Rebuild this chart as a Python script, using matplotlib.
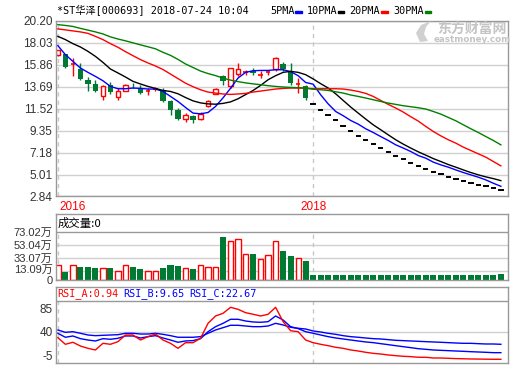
import numpy as np
import matplotlib.pyplot as plt
import matplotlib.transforms as mtransforms
from matplotlib.patches import Rectangle, Polygon

plt.rcParams['font.family'] = ['Liberation Sans', 'Noto Sans CJK SC', 'DejaVu Sans']
MONO = ['DejaVu Sans Mono', 'Noto Sans CJK SC']

# ---- data (price in yuan, volume in 万, one bar per index) ----
opens = [16.88, 16.94, 15.96, 15.48, 14.39, 13.97, 12.74, 13.90, 12.64, 13.30,
         13.72, 13.50, 13.28, 13.48, 13.40, 12.31, 11.42, 10.50, 10.80, 10.53,
         11.82, 12.99, 14.79, 13.73, 14.96, 15.10, 15.30, 14.88, 15.10, 15.45,
         15.95, 15.22, 13.95, 13.80,
         11.99, 11.42, 10.92, 10.36, 9.83, 9.34, 8.87, 8.45, 8.02, 7.63,
         7.26, 6.89, 6.53, 6.20, 5.90, 5.60, 5.30, 5.05, 4.81, 4.58,
         4.38, 4.19, 4.02, 3.86, 3.69, 3.49]
closes = [17.30, 15.65, 16.00, 14.46, 13.97, 13.23, 13.80, 13.14, 13.30, 13.90,
          13.65, 13.07, 13.32, 13.52, 12.24, 11.42, 10.50, 10.92, 10.40, 11.00,
          12.24, 13.47, 14.23, 15.55, 15.45, 15.14, 15.05, 14.91, 15.14, 16.54,
          15.48, 14.07, 13.99, 12.58,
          11.99, 11.42, 10.92, 10.36, 9.83, 9.34, 8.87, 8.45, 8.02, 7.63,
          7.26, 6.89, 6.53, 6.20, 5.90, 5.60, 5.30, 5.05, 4.81, 4.58,
          4.38, 4.19, 4.02, 3.86, 3.69, 3.49]
highs = [17.35, 16.95, 16.50, 16.05, 14.62, 14.40, 13.90, 14.12, 13.57, 13.95,
         14.10, 13.90, 13.57, 13.70, 13.57, 12.40, 11.60, 11.10, 10.90, 11.20,
         12.35, 13.55, 14.90, 15.60, 16.00, 15.40, 15.60, 15.30, 15.40, 16.60,
         16.14, 16.00, 14.56, 13.90,
         11.99, 11.42, 10.92, 10.36, 9.83, 9.34, 8.87, 8.45, 8.02, 7.63,
         7.26, 6.89, 6.53, 6.20, 5.90, 5.60, 5.30, 5.05, 4.81, 4.58,
         4.38, 4.19, 4.02, 3.86, 3.69, 3.49]
lows = [16.70, 15.60, 14.72, 14.40, 13.30, 13.20, 12.41, 13.00, 12.34, 13.25,
        13.60, 13.00, 12.90, 13.30, 12.20, 10.93, 10.40, 10.16, 10.10, 10.40,
        11.70, 12.95, 13.90, 13.60, 14.80, 14.90, 14.90, 14.60, 14.90, 15.30,
        15.30, 13.90, 13.07, 12.40,
        11.99, 11.42, 10.92, 10.36, 9.83, 9.34, 8.87, 8.45, 8.02, 7.63,
        7.26, 6.89, 6.53, 6.20, 5.90, 5.60, 5.30, 5.05, 4.81, 4.58,
        4.38, 4.19, 4.02, 3.86, 3.69, 3.49]

ma5 = [17.76, 16.87, 16.21, 15.55, 15.12, 14.72, 14.29, 13.73, 13.50, 13.50,
       13.57, 13.53, 13.47, 13.47, 13.23, 12.74, 12.24, 11.65, 11.09, 11.02,
       11.15, 11.75, 12.60, 13.55, 14.56, 15.12, 15.28, 15.31, 15.31, 15.38,
       15.38, 15.19, 14.79, 14.12, 13.95, 12.90, 12.00, 11.25, 10.83, 10.36,
       10.00, 9.54, 9.17, 8.77, 8.38, 7.95, 7.63, 7.29, 6.89, 6.63,
       6.24, 5.97, 5.74, 5.47, 5.21, 4.98, 4.75, 4.48, 4.15, 3.85]
ma10 = [18.68, 18.36, 17.96, 17.63, 17.20, 16.70, 16.11, 15.45, 15.06, 14.66,
        14.23, 13.97, 13.73, 13.53, 13.33, 13.23, 13.00, 12.63, 12.30, 12.10,
        12.00, 11.97, 12.05, 12.20, 12.51, 12.92, 13.33, 13.83, 14.39, 14.79,
        15.12, 15.22, 15.12, 14.89, 14.47, 14.00, 13.57, 13.00, 12.34, 11.69,
        11.09, 10.50, 9.93, 9.44, 8.94, 8.45, 8.02, 7.63, 7.26, 6.93,
        6.59, 6.30, 6.00, 5.74, 5.47, 5.21, 4.98, 4.78, 4.61, 4.41]
ma20 = [19.42, 19.32, 19.22, 19.12, 18.98, 18.68, 18.36, 17.96, 17.60, 17.17,
        16.77, 16.38, 16.05, 15.75, 15.40, 14.95, 14.50, 14.05, 13.70, 13.40,
        13.17, 13.07, 12.98, 12.94, 12.98, 13.04, 13.17, 13.27, 13.37, 13.47,
        13.53, 13.57, 13.57, 13.55, 13.50, 13.50, 13.50, 13.50, 13.47, 13.37,
        13.23, 13.04, 12.74, 12.34, 11.95, 11.59, 11.19, 10.73, 10.30, 9.77,
        9.27, 8.84, 8.45, 8.12, 7.72, 7.39, 7.06, 6.73, 6.30, 5.87]
ma30 = [19.84, 19.76, 19.66, 19.47, 19.30, 19.12, 18.92, 18.63, 18.42, 18.24,
        18.04, 17.84, 17.65, 17.45, 17.10, 16.80, 16.40, 15.95, 15.60, 15.25,
        15.00, 14.80, 14.55, 14.35, 14.20, 14.08, 13.98, 13.90, 13.80, 13.73,
        13.67, 13.63, 13.60, 13.57, 13.45, 13.40, 13.33, 13.20, 13.07, 12.88,
        12.74, 12.58, 12.41, 12.24, 12.08, 11.95, 11.82, 11.72, 11.62, 11.49,
        11.25, 10.99, 10.66, 10.33, 9.93, 9.54, 9.17, 8.77, 8.38, 7.95]

volume = [22.2, 12.2, 22.2, 19.6, 19.6, 18.0, 18.8, 18.0, 14.2, 22.2,
          19.6, 16.2, 14.2, 14.2, 18.0, 22.7, 21.0, 18.8, 16.2, 22.2,
          20.5, 19.6, 65.5, 59.4, 62.0, 39.3, 39.5, 31.3, 37.5, 59.0,
          43.8, 36.2, 32.8, 28.6,
          7.8, 7.8, 7.8, 7.8, 7.8, 7.8, 7.8, 7.8, 7.8, 7.8,
          7.8, 7.8, 7.8, 7.8, 7.8, 7.8, 7.8, 7.8, 7.8, 7.8,
          7.8, 7.8, 7.8, 7.8, 7.8, 9.1]

rsi_a = [29.0, 16.2, 20.1, 12.9, 8.4, 5.2, 18.1, 16.2, 21.3, 34.2,
         34.2, 24.5, 31.0, 36.1, 24.5, 18.1, 8.4, 19.3, 19.3, 27.8,
         56.8, 71.0, 76.2, 87.8, 83.9, 77.4, 74.3, 71.0, 74.3, 87.8,
         60.0, 42.5, 40.6, 24.5, 19.3, 16.2, 13.5, 10.4, 8.4, 5.2,
         3.2, 0.7, -1.3, -2.6, -4.5, -5.8, -7.0, -7.7, -8.9, -8.9,
         -10.3, -10.3, -10.9, -11.5, -11.8, -12.2, -12.4, -12.6, -12.8, -12.8]
rsi_b = [37.5, 29.8, 32.3, 27.1, 24.5, 22.6, 27.1, 25.9, 27.8, 32.3,
         32.3, 28.4, 31.0, 32.9, 28.4, 24.5, 20.1, 22.6, 23.3, 27.1,
         40.6, 50.3, 56.8, 64.6, 64.6, 61.3, 59.4, 58.8, 60.0, 71.0,
         63.2, 50.3, 46.5, 40.6, 37.5, 34.2, 31.0, 28.4, 26.5, 24.5,
         22.6, 20.7, 19.4, 17.4, 15.5, 13.5, 11.6, 9.7, 7.7, 6.5,
         5.2, 4.5, 3.9, 3.2, 2.6, 1.9, 1.3, 0.7, 0.0, 0.0]
rsi_c = [43.9, 39.4, 40.6, 37.5, 34.2, 32.9, 33.6, 34.2, 34.8, 37.5,
         37.5, 36.1, 36.1, 37.5, 35.5, 32.9, 29.8, 29.8, 29.8, 31.0,
         37.5, 43.9, 48.4, 53.0, 53.0, 51.6, 50.3, 50.3, 51.6, 56.8,
         53.6, 49.1, 47.2, 45.8, 42.0, 40.0, 37.5, 35.5, 32.9, 31.0,
         29.8, 28.4, 27.1, 26.5, 25.2, 23.9, 23.3, 22.6, 22.0, 21.3,
         20.7, 20.1, 19.4, 18.7, 18.1, 18.1, 17.4, 16.8, 16.8, 16.2]

price_ticks = [2.84, 5.01, 7.18, 9.35, 11.52, 13.69, 15.86, 18.03, 20.20]
vol_ticks = [0, 13.09, 33.07, 53.04, 73.02]
vol_labels = ['0', '13.09万', '33.07万', '53.04万', '73.02万']
rsi_ticks = [-5, 40, 85]
year_pos = [0, 34]
year_labels = ['2016', '2018']

RED = '#ff0000'
GREEN = '#007a33'
BORDER = '#999999'
GRID = '#d0d0d0'

W, H = 520, 365
fig = plt.figure(figsize=(W / 100, H / 100), dpi=100)


def box(x0, y0, x1, y1):
    return [x0 / W, 1 - y1 / H, (x1 - x0) / W, (y1 - y0) / H]


ax = fig.add_axes(box(56, 21, 508, 196.5))
axv = fig.add_axes(box(56, 214, 508, 280))
axr = fig.add_axes(box(56, 287, 508, 363))

n = len(closes)
x = np.arange(n)
for a in (ax, axv, axr):
    a.set_xlim(-0.25, 59.95)
    a.set_xticks([])
    for s in a.spines.values():
        s.set_color(BORDER)
        s.set_linewidth(1)
    a.tick_params(axis='y', length=0, pad=2.5, labelsize=8.5, labelcolor='#333333')

# ---- price panel ----
ax.set_ylim(2.84, 20.20)
ax.set_yticks(price_ticks, ['%.2f' % t for t in price_ticks])
for t in price_ticks:
    ax.axhline(t, color=GRID, lw=1, zorder=0)
for p in year_pos:
    ax.axvline(p, color='#c8c8c8', lw=1, ls=(0, (3, 3)), zorder=0)

bw = 0.62
for i in range(n):
    o, h, l, c = opens[i], highs[i], lows[i], closes[i]
    if h == l:
        ax.hlines(c, i - 0.36, i + 0.36, color='black', lw=1.4, zorder=2)
        continue
    col = RED if c > o else GREEN
    ax.vlines(i, l, h, color=col, lw=1, zorder=2)
    if abs(c - o) < 0.06:
        ax.hlines((o + c) / 2, i - bw / 2, i + bw / 2, color=col, lw=1.2, zorder=2)
    elif c > o:
        ax.add_patch(Rectangle((i - bw / 2, o), bw, c - o, facecolor='white',
                               edgecolor=RED, lw=1, zorder=2.5))
    else:
        ax.add_patch(Rectangle((i - bw / 2 - 0.05, c), bw + 0.1, o - c, facecolor=GREEN,
                               edgecolor='none', zorder=2.5))

ax.plot(x, ma5, color='#0000ff', lw=1, zorder=3)
ax.plot(x, ma10, color='black', lw=1, zorder=3)
ax.plot(x, ma20, color=RED, lw=1, zorder=3)
ax.plot(x, ma30, color='#008000', lw=1, zorder=3)

for p, lab in zip(year_pos, year_labels):
    ax.text(p + 0.15 if p == 0 else p, -0.057, lab, transform=ax.get_xaxis_transform(),
            color=RED, fontsize=8.5, ha='left' if p == 0 else 'center', va='center')

# ---- volume panel ----
vtop = 73.02 * 66 / 48
axv.set_ylim(0, vtop)
axv.set_yticks(vol_ticks, vol_labels)
axv.tick_params(axis='y', labelsize=8)
for k, lbl in enumerate(axv.get_yticklabels()):
    lbl.set_fontfamily(['Liberation Sans', 'Noto Sans CJK SC'])
    if k == 1:
        # nudge so it clears the "0" label as in the reference
        lbl.set_transform(lbl.get_transform() +
                          mtransforms.ScaledTranslation(0, 2.5 / 100, fig.dpi_scale_trans))
for t in vol_ticks[1:-1]:
    axv.axhline(t, color=GRID, lw=1, zorder=0)
axv.axhline(vol_ticks[-1], color=BORDER, lw=1, zorder=1)
axv.vlines(year_pos, 0, vol_ticks[-1], color='#c8c8c8', lw=1, ls=(0, (3, 3)), zorder=0)
vw = 0.7
for i in range(n):
    if closes[i] > opens[i]:
        axv.add_patch(Rectangle((i - vw / 2, 0), vw, volume[i], facecolor='white',
                                edgecolor=RED, lw=1, zorder=2))
    else:
        axv.add_patch(Rectangle((i - vw / 2 - 0.05, 0), vw + 0.1, volume[i], facecolor=GREEN,
                                edgecolor='none', zorder=2))
axv.text(0.004, (vtop + vol_ticks[-1]) / 2, '成交量:0', transform=axv.get_yaxis_transform(),
         fontsize=8.2, va='center', ha='left', family=['Noto Sans CJK SC', 'DejaVu Sans'])

# ---- RSI panel ----
rtop = 100 + 14 * 120 / 62
axr.set_ylim(-20, rtop)
axr.set_yticks(rsi_ticks, [str(t) for t in rsi_ticks])
axr.axhline(40, color=GRID, lw=1, zorder=0)
axr.axhline(100, color=BORDER, lw=1, zorder=1)
axr.vlines(year_pos, -20, 100, color='#c8c8c8', lw=1, ls=(0, (3, 3)), zorder=0)
axr.plot(x, rsi_c, color='#0000ff', lw=1, zorder=2)
axr.plot(x, rsi_b, color='#0000ff', lw=1, zorder=2)
axr.plot(x, rsi_a, color=RED, lw=1, zorder=3)
ry = 1 - 294 / H
fig.text(57 / W, ry, 'RSI_A:0.94', color=RED, family=MONO, fontsize=7.3, va='center')
fig.text(123 / W, ry, 'RSI_B:9.65', color='#0000ff', family=MONO, fontsize=7.3, va='center')
fig.text(189 / W, ry, 'RSI_C:22.67', color='#0000ff', family=MONO, fontsize=7.3, va='center')

# ---- header ----
fig.text(57 / W, 1 - 11 / H, '*ST华泽[000693] 2018-07-24 10:04', family=MONO,
         fontsize=7.3, va='center')
legend = [('5PMA', 270, '#0000ff', 295), ('10PMA', 307, 'black', 337.5),
          ('20PMA', 349.5, RED, 381), ('30PMA', 393, '#008000', 424.5)]
for lab, tx, col, rx in legend:
    fig.text(tx / W, 1 - 11 / H, lab, family=MONO, fontsize=7.3, va='center')
    fig.add_artist(Rectangle((rx / W, 1 - 13 / H), 6.5 / W, 2.2 / H, color=col,
                             transform=fig.transFigure))

# watermark: logo swoosh + site name
logo = [(420, 42), (416, 33), (421, 25), (431, 21), (426, 27), (424, 34), (428, 41)]
fig.add_artist(Polygon([(px / W, 1 - py / H) for px, py in logo], closed=True,
                       facecolor='#d0d0d0', edgecolor='none', transform=fig.transFigure))
fig.text(472 / W, 1 - 29 / H, '东方财富网', color='#c4c4c4', fontsize=10,
         fontweight='bold', ha='center', va='center', family=['Noto Sans CJK SC'])
fig.text(472 / W, 1 - 40 / H, 'eastmoney.com', color='#c4c4c4', fontsize=6.3,
         fontweight='bold', ha='center', va='center', family=['DejaVu Sans'])

fig.savefig('out.png', dpi=100)
